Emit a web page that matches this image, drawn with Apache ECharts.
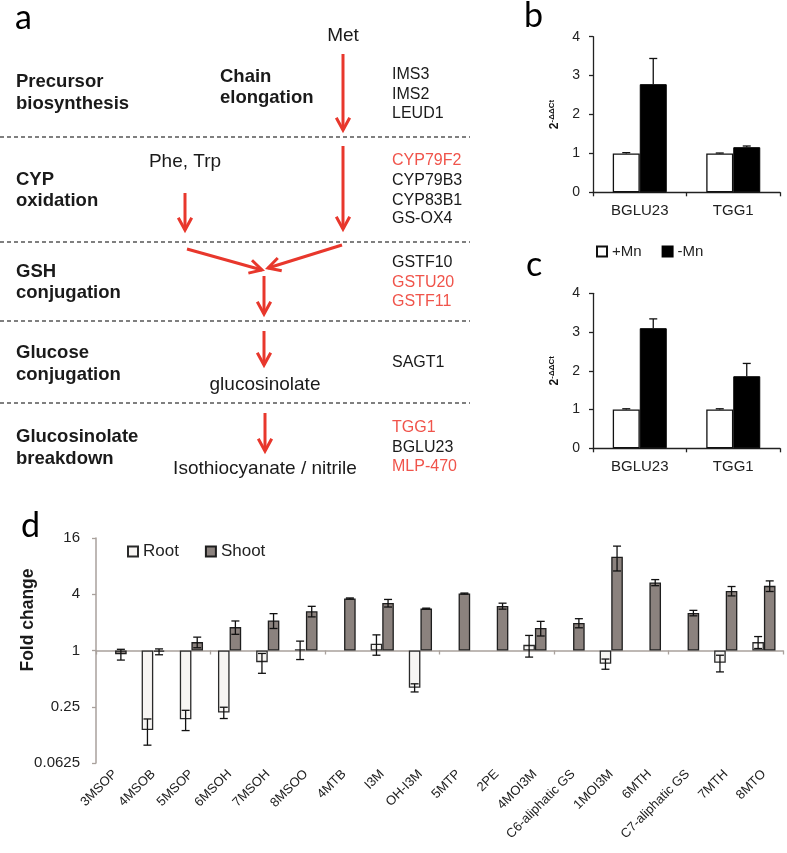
<!DOCTYPE html>
<html><head><meta charset="utf-8">
<script src="https://cdn.jsdelivr.net/npm/echarts@6/dist/echarts.min.js"></script>
<style>html,body{margin:0;padding:0;background:#fff}#c{width:787px;height:853px}</style>
</head><body><div id="c"></div>
<script>
// ---------- data: panels b & c ----------
const genesBC = ['BGLU23', 'TGG1'];
const bPlusMn = [1.0, 1.0];
const bPlusMnErr = [0.02, 0.01];
const bMinusMn = [2.78, 1.16];
const bMinusMnErr = [0.66, 0.03];
const cPlusMn = [1.0, 1.0];
const cPlusMnErr = [0.02, 0.02];
const cMinusMn = [3.10, 1.86];
const cMinusMnErr = [0.24, 0.33];
const bcTicks = [0, 1, 2, 3, 4];

// ---------- data: panel d ----------
const glucosinolates = ['3MSOP','4MSOB','5MSOP','6MSOH','7MSOH','8MSOO','4MTB','I3M','OH-I3M','5MTP','2PE','4MOI3M','C6-aliphatic GS','1MOI3M','6MTH','C7-aliphatic GS','7MTH','8MTO'];
const rootFold  = [null, 0.141, 0.184, 0.217, 0.75, 1.03, null, 1.18, 0.40, null, null, 1.15, null, 0.72, null, null, 0.74, 1.23];
const rootErr   = [0, 0.044, 0.045, 0.03, 0.18, 0.23, 0, 0.29, 0.04, 0, 0, 0.30, 0, 0.09, 0, 0, 0.15, 0.18];
const shootFold = [0.91, 0.97, 1.23, 1.78, 2.10, 2.63, 3.6, 3.22, 2.81, 4.07, 2.99, 1.74, 1.97, 10.1, 5.34, 2.52, 4.34, 4.92];
const shootErr  = [0.12, 0.07, 0.16, 0.29, 0.38, 0.34, 0.05, 0.30, 0.03, 0.05, 0.22, 0.31, 0.22, 3.0, 0.40, 0.17, 0.50, 0.64];
const foldTicks = [0.0625, 0.25, 1, 4, 16];

// ---------- pathway text (panel a) ----------
const stageLabels = [['Precursor','biosynthesis'],['CYP','oxidation'],['GSH','conjugation'],['Glucose','conjugation'],['Glucosinolate','breakdown']];
const stageGenes = [
  [['IMS3',0],['IMS2',0],['LEUD1',0]],
  [['CYP79F2',1],['CYP79B3',0],['CYP83B1',0],['GS-OX4',0]],
  [['GSTF10',0],['GSTU20',1],['GSTF11',1]],
  [['SAGT1',0]],
  [['TGG1',1],['BGLU23',0],['MLP-470',1]]
];
const metabolites = ['Met', 'Phe, Trp', 'glucosinolate', 'Isothiocyanate / nitrile'];

// ---------- drawing ----------
const FONT = '"Liberation Sans", Arial, sans-serif';
const RED = '#e8372c', REDTXT = '#f0544b', INK = '#1a1a1a';
const log2 = v => (v == null ? null : Math.log2(v));

const g = [];
function txt(s, x, y, o) {
  o = o || {};
  g.push({
    type: 'text', x: x, y: y, rotation: o.rot || 0, silent: true,
    style: {
      text: s, x: 0, y: 0, fill: o.fill || INK,
      font: (o.bold ? 'bold ' : '') + (o.size || 16) + 'px ' + (o.family || FONT),
      align: o.align || 'left', verticalAlign: 'middle',
      textAlign: o.align || 'left', textVerticalAlign: 'middle'
    }
  });
}
function arrow(x1, y1, x2, y2) {
  const a = Math.atan2(y2 - y1, x2 - x1), L = 14, w = 0.5;
  g.push({ type: 'line', silent: true, shape: { x1, y1, x2, y2 }, style: { stroke: RED, lineWidth: 3 } });
  g.push({ type: 'polyline', silent: true, shape: { points: [
    [x2 - L * Math.cos(a - w), y2 - L * Math.sin(a - w)], [x2, y2],
    [x2 - L * Math.cos(a + w), y2 - L * Math.sin(a + w)]] },
    style: { stroke: RED, lineWidth: 3, fill: null } });
}
function dash(y) {
  g.push({ type: 'line', silent: true, shape: { x1: 0, y1: y, x2: 470, y2: y }, style: { stroke: '#555', lineWidth: 1.5, lineDash: [4, 3] } });
}

// panel letters
const LET = 'Lato, "Open Sans", sans-serif';
txt('a', 15, 18, { size: 34, family: LET, fill: '#000' });
txt('b', 524, 16, { size: 34, family: LET, fill: '#000' });
txt('c', 526, 265, { size: 34, family: LET, fill: '#000' });
txt('d', 21, 526, { size: 34, family: LET, fill: '#000' });

// dashed separators
[137, 242, 321, 403].forEach(dash);

// stage labels
const stageY = [[82, 104], [180, 201], [272, 293], [353, 375], [437, 459]];
stageLabels.forEach((p, i) => { txt(p[0], 16, stageY[i][0], { bold: true, size: 18.5 }); txt(p[1], 16, stageY[i][1], { bold: true, size: 18.5 }); });
txt('Chain', 220, 77, { bold: true, size: 18.5 });
txt('elongation', 220, 98, { bold: true, size: 18.5 });

// genes
const geneY = [[75, 95, 114], [161, 181, 201, 219], [263, 283, 302], [363], [428, 448, 467]];
stageGenes.forEach((list, i) => list.forEach((gn, j) => txt(gn[0], 392, geneY[i][j], { size: 16, fill: gn[1] ? REDTXT : INK })));

// metabolites
txt(metabolites[0], 343, 36, { size: 19, align: 'center' });
txt(metabolites[1], 185, 162, { size: 19, align: 'center' });
txt(metabolites[2], 265, 385, { size: 19, align: 'center' });
txt(metabolites[3], 265, 469, { size: 19, align: 'center' });

// arrows
arrow(343, 54, 343, 130);
arrow(343, 146, 343, 229);
arrow(185, 193, 185, 230);
arrow(187, 249, 262, 270);
arrow(342, 245, 268, 268);
arrow(264, 276, 264, 314);
arrow(264, 331, 264, 365);
arrow(265, 413, 265, 451);

// Fold change label
txt('Fold change', 28, 620, { bold: true, size: 17.5, align: 'center', rot: Math.PI / 2 });

// ---------- error bar series ----------
function errSeries(xi, yi, vals, errs, offset, capW, both, useLog) {
  const data = [];
  vals.forEach((v, i) => { if (v != null && errs[i] > 0) data.push([i, v, errs[i]]); });
  return {
    type: 'custom', xAxisIndex: xi, yAxisIndex: yi, silent: true, z: 5,
    renderItem: function (params, api) {
      const i = api.value(0), v = api.value(1), e = api.value(2);
      let hi, lo;
      if (useLog) { hi = Math.log2(v + e); lo = Math.log2(Math.max(v - e, 1e-3)); }
      else { hi = v + e; lo = v; }
      const p1 = api.coord([i, hi]), p0 = api.coord([i, lo]);
      const x = p1[0] + offset;
      const st = { stroke: '#111', lineWidth: 1.3 };
      const ch = [
        { type: 'line', shape: { x1: x, y1: p0[1], x2: x, y2: p1[1] }, style: st },
        { type: 'line', shape: { x1: x - capW / 2, y1: p1[1], x2: x + capW / 2, y2: p1[1] }, style: st }
      ];
      if (both) ch.push({ type: 'line', shape: { x1: x - capW / 2, y1: p0[1], x2: x + capW / 2, y2: p0[1] }, style: st });
      return { type: 'group', children: ch };
    },
    data: data
  };
}

const axisBlack = { show: true, lineStyle: { color: '#222', width: 1.3 } };
function bcX(gi) {
  return {
    type: 'category', gridIndex: gi, data: genesBC, boundaryGap: true,
    axisLine: axisBlack, axisTick: { show: true, length: 4, lineStyle: { color: '#222', width: 1.3 } },
    axisLabel: { interval: 0, margin: 11, fontSize: 15, color: '#222', fontFamily: FONT },
    splitLine: { show: false }
  };
}
function bcY(gi) {
  return {
    type: 'value', gridIndex: gi, min: bcTicks[0], max: bcTicks[bcTicks.length - 1], interval: 1,
    axisLine: axisBlack, axisTick: { show: true, length: 4, lineStyle: { color: '#222', width: 1.3 } },
    axisLabel: { margin: 13, fontSize: 14, color: '#222', fontFamily: FONT },
    splitLine: { show: false },
    name: '{a|2}{b|-ΔΔCt}', nameLocation: 'middle', nameRotate: 90, nameGap: 31,
    nameTextStyle: { rich: {
      a: { fontSize: 12, fontWeight: 'bold', color: '#111', fontFamily: FONT },
      b: { fontSize: 8, fontWeight: 'bold', color: '#111', fontFamily: FONT, padding: [0, 0, 6, 0] }
    } }
  };
}
const whiteBar = { color: '#ffffff', borderColor: '#111', borderWidth: 1.3 };
const blackBar = { color: '#000000', borderColor: '#000', borderWidth: 1 };
const dAxisColor = '#a9a19c';

const option = {
  backgroundColor: '#fff',
  animation: false,
  graphic: { elements: g },
  legend: [
    { data: ['+Mn', '-Mn'], left: 596, top: 244, icon: 'rect', itemWidth: 10, itemHeight: 10, itemGap: 20, padding: 0,
      textStyle: { fontSize: 15, color: '#222', fontFamily: FONT }, selectedMode: false },
    { data: ['Root', 'Shoot'], left: 127, top: 543, icon: 'rect', itemWidth: 10, itemHeight: 10, itemGap: 26, padding: 0,
      textStyle: { fontSize: 17, color: '#222', fontFamily: FONT }, selectedMode: false }
  ],
  grid: [
    { left: 593, top: 36.7, width: 187, height: 155.6, outerBoundsMode: 'none', containLabel: false },
    { left: 593, top: 293.3, width: 187, height: 155, outerBoundsMode: 'none', containLabel: false },
    { left: 96, top: 538, width: 687, height: 225, outerBoundsMode: 'none', containLabel: false }
  ],
  xAxis: [
    bcX(0), bcX(1),
    { type: 'category', gridIndex: 2, data: glucosinolates, position: 'bottom',
      axisLine: { show: false, onZero: false }, axisTick: { show: false },
      axisLabel: { interval: 0, rotate: 45, margin: 9, fontSize: 13, color: '#222', fontFamily: FONT },
      splitLine: { show: false } },
    { type: 'category', gridIndex: 2, data: glucosinolates, position: 'bottom',
      axisLine: { show: true, onZero: true, onZeroAxisIndex: 2, lineStyle: { color: dAxisColor, width: 1.5 } },
      axisTick: { show: true, length: 4, lineStyle: { color: dAxisColor, width: 1.3 } },
      axisLabel: { show: false }, splitLine: { show: false } }
  ],
  yAxis: [
    bcY(0), bcY(1),
    { type: 'value', gridIndex: 2, min: Math.log2(foldTicks[0]), max: Math.log2(foldTicks[foldTicks.length - 1]), interval: 2,
      axisLine: { show: true, onZero: false, lineStyle: { color: dAxisColor, width: 1.5 } },
      axisTick: { show: true, length: 4, lineStyle: { color: dAxisColor, width: 1.3 } },
      axisLabel: { margin: 16, fontSize: 15, color: '#222', fontFamily: FONT,
        formatter: v => { const t = foldTicks.find(f => Math.abs(Math.log2(f) - v) < 1e-6); return t != null ? String(t) : ''; } },
      splitLine: { show: false } }
  ],
  series: [
    { type: 'bar', name: '+Mn', xAxisIndex: 0, yAxisIndex: 0, data: bPlusMn, barWidth: 27, barGap: '0%', itemStyle: whiteBar },
    { type: 'bar', name: '-Mn', xAxisIndex: 0, yAxisIndex: 0, data: bMinusMn, barWidth: 27, barGap: '0%', itemStyle: blackBar },
    errSeries(0, 0, bPlusMn, bPlusMnErr, -13.5, 8, false, false),
    errSeries(0, 0, bMinusMn, bMinusMnErr, 13.5, 8, false, false),
    { type: 'bar', name: '+Mn', xAxisIndex: 1, yAxisIndex: 1, data: cPlusMn, barWidth: 27, barGap: '0%', itemStyle: whiteBar },
    { type: 'bar', name: '-Mn', xAxisIndex: 1, yAxisIndex: 1, data: cMinusMn, barWidth: 27, barGap: '0%', itemStyle: blackBar },
    errSeries(1, 1, cPlusMn, cPlusMnErr, -13.5, 8, false, false),
    errSeries(1, 1, cMinusMn, cMinusMnErr, 13.5, 8, false, false),
    { type: 'bar', name: 'Root', xAxisIndex: 2, yAxisIndex: 2, data: rootFold.map(log2), barWidth: 11.6, barGap: '0%',
      itemStyle: { color: '#f7f5f3', borderColor: '#2a2a2a', borderWidth: 1.3 } },
    { type: 'bar', name: 'Shoot', xAxisIndex: 2, yAxisIndex: 2, data: shootFold.map(log2), barWidth: 11.6, barGap: '0%',
      itemStyle: { color: '#8b827e', borderColor: '#1e1e1e', borderWidth: 1.3 } },
    errSeries(2, 2, rootFold, rootErr, -5.8, 8, true, true),
    errSeries(2, 2, shootFold, shootErr, 5.8, 8, true, true)
  ]
};

const chart = echarts.init(document.getElementById('c'), null, { renderer: 'canvas' });
chart.setOption(option);
</script>
</body></html>
